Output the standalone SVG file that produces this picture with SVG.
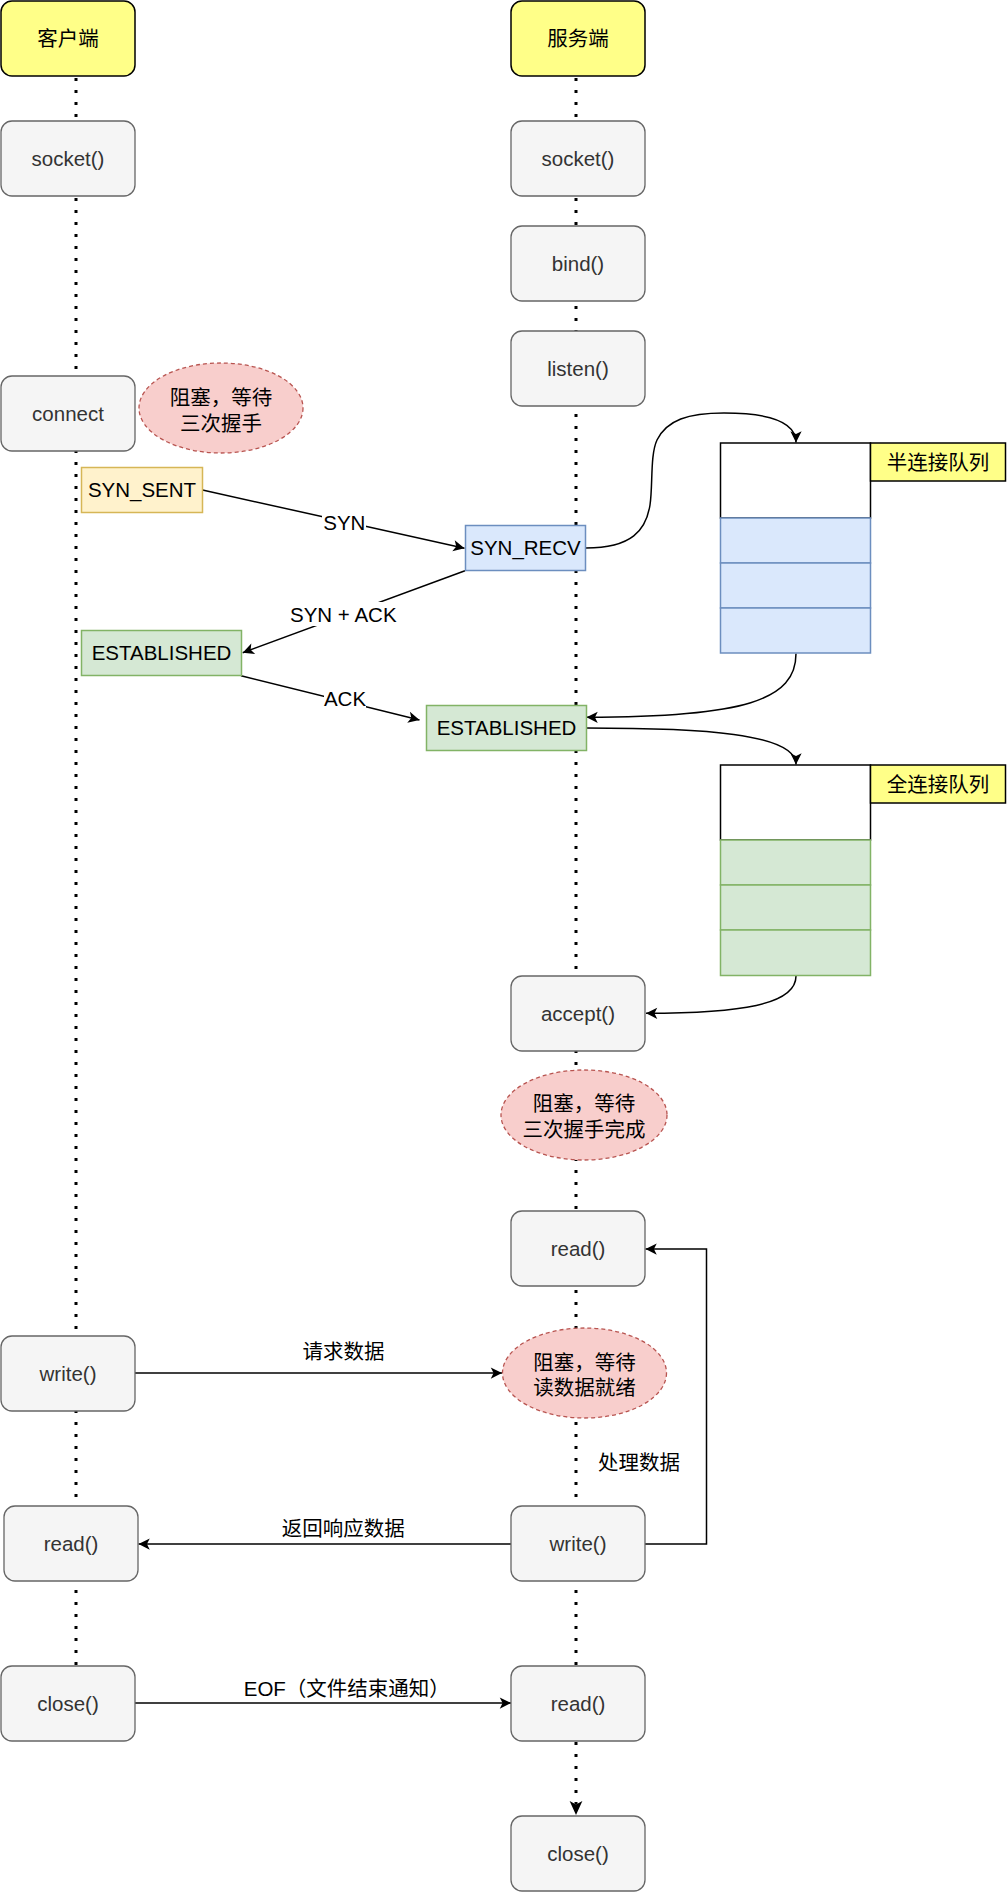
<svg xmlns="http://www.w3.org/2000/svg" width="1007" height="1892" viewBox="0 0 1007 1892">
<defs>
<marker id="arr" viewBox="0 0 12 12" refX="11" refY="6" markerWidth="13.5" markerHeight="13.5" markerUnits="userSpaceOnUse" orient="auto"><path d="M1,1 L11,6 L1,11 L3.5,6 Z" fill="#000"/></marker>
<marker id="arrBig" viewBox="0 0 12 12" refX="3.5" refY="6" markerWidth="17" markerHeight="17" markerUnits="userSpaceOnUse" orient="auto"><path d="M1,1.5 L11,6 L1,10.5 L3.5,6 Z" fill="#000"/></marker>
<style>
.t{font-family:"Liberation Sans","Noto Sans CJK SC",sans-serif;font-size:20.5px;text-anchor:middle;fill:#000}
.gt{fill:#333}
.g{fill:#f5f5f5;stroke:#666;stroke-width:1.3}
.hdr{fill:#ffff88;stroke:#000;stroke-width:1.5}
.ell{fill:#f8cecc;stroke:#b85450;stroke-width:1.3;stroke-dasharray:4 3}
.life{stroke:#000;stroke-width:3;stroke-dasharray:3 9;fill:none}
.e{stroke:#000;stroke-width:1.5;fill:none}
.bg{fill:#fff}
.qw{fill:#fff;stroke:#000;stroke-width:1.5}
.qb{fill:#dae8fc;stroke:#6c8ebf;stroke-width:1.5}
.qg{fill:#d5e8d4;stroke:#82b366;stroke-width:1.5}
.ql{fill:#ffff88;stroke:#000;stroke-width:1.5}
</style>
</defs>
<g id="connectors">
<line class="life" x1="76" y1="78" x2="76" y2="1665"/>
<line class="life" x1="576" y1="78" x2="576" y2="1665"/>
<line class="life" x1="576" y1="1742" x2="576" y2="1804.5" marker-end="url(#arrBig)"/>
<path class="e" d="M202.5,490 L464.5,548.3" marker-end="url(#arr)"/>
<rect class="bg" x="322" y="511" width="44" height="24"/>
<text class="t" x="344.3" y="530">SYN</text>
<path class="e" d="M465,570.7 L242.7,652.7" marker-end="url(#arr)"/>
<rect class="bg" x="289.5" y="602" width="108" height="24"/>
<text class="t" x="343.3" y="621.6">SYN + ACK</text>
<path class="e" d="M241,675.7 L419.5,720" marker-end="url(#arr)"/>
<rect class="bg" x="324" y="686" width="42" height="24"/>
<text class="t" x="345" y="705.6">ACK</text>
<path class="e" d="M586,548 C632,548 646,530 650,505 C653,485 650,455 657,440 C667,420 688,413 724,413 C770,413 796,422 796,442.5" marker-end="url(#arr)"/>
<path class="e" d="M796,653.5 C796,700 745,717 586.5,717.3" marker-end="url(#arr)"/>
<path class="e" d="M586,728 C700,728 796,733 796,764.5" marker-end="url(#arr)"/>
<path class="e" d="M796,976 C796,1005 740,1013 646,1013.3" marker-end="url(#arr)"/>
<path class="e" d="M135,1373 L502,1373" marker-end="url(#arr)"/>
<text class="t" x="343.6" y="1359">请求数据</text>
<path class="e" d="M511,1544 L138.5,1544" marker-end="url(#arr)"/>
<text class="t" x="343.3" y="1536">返回响应数据</text>
<path class="e" d="M645,1544 L706.5,1544 L706.5,1249 L645.5,1249" marker-end="url(#arr)"/>
<text class="t" x="639" y="1470">处理数据</text>
<path class="e" d="M135,1703 L511,1703" marker-end="url(#arr)"/>
<text class="t" x="346.8" y="1696">EOF（文件结束通知）</text>
</g>
<g id="client-header"><rect class="hdr" x="1" y="1" width="134" height="75" rx="11"/><text class="t" x="68" y="46">客户端</text></g>
<g id="server-header"><rect class="hdr" x="511" y="1" width="134" height="75" rx="11"/><text class="t" x="578" y="46">服务端</text></g>
<g id="client-socket"><rect class="g" x="1" y="121" width="134" height="75" rx="11"/><text class="t gt" x="68" y="165.5">socket()</text></g>
<g id="server-socket"><rect class="g" x="511" y="121" width="134" height="75" rx="11"/><text class="t gt" x="578" y="165.5">socket()</text></g>
<g id="server-bind"><rect class="g" x="511" y="226" width="134" height="75" rx="11"/><text class="t gt" x="578" y="270.5">bind()</text></g>
<g id="server-listen"><rect class="g" x="511" y="331" width="134" height="75" rx="11"/><text class="t gt" x="578" y="375.5">listen()</text></g>
<g id="client-connect"><rect class="g" x="1" y="376" width="134" height="75" rx="11"/><text class="t gt" x="68" y="420.5">connect</text></g>
<g id="block-connect"><ellipse class="ell" cx="221" cy="408" rx="82" ry="45"/><text class="t" x="221" y="404.5">阻塞，等待</text><text class="t" x="221" y="430.5">三次握手</text></g>
<g id="syn-sent"><rect x="81.5" y="467.5" width="121" height="45" fill="#fff2cc" stroke="#d6b656" stroke-width="1.5"/><text class="t" x="142" y="497.3">SYN_SENT</text></g>
<g id="syn-recv"><rect x="465.5" y="525.5" width="120" height="45" fill="#dae8fc" stroke="#6c8ebf" stroke-width="1.5"/><text class="t" x="525.5" y="555.3">SYN_RECV</text></g>
<g id="client-established"><rect x="81.5" y="630.5" width="160" height="45" fill="#d5e8d4" stroke="#82b366" stroke-width="1.5"/><text class="t" x="161.5" y="660.3">ESTABLISHED</text></g>
<g id="server-established"><rect x="426.5" y="705.5" width="160" height="45" fill="#d5e8d4" stroke="#82b366" stroke-width="1.5"/><text class="t" x="506.5" y="735.3">ESTABLISHED</text></g>
<g id="half-queue">
<rect class="qw" x="720.5" y="443" width="150" height="75"/>
<rect class="qb" x="720.5" y="518" width="150" height="45"/>
<rect class="qb" x="720.5" y="563" width="150" height="45"/>
<rect class="qb" x="720.5" y="608" width="150" height="45"/>
<rect class="ql" x="870.5" y="443" width="135" height="38"/>
<text class="t" x="938" y="470">半连接队列</text>
</g>
<g id="full-queue">
<rect class="qw" x="720.5" y="765" width="150" height="75"/>
<rect class="qg" x="720.5" y="840" width="150" height="45"/>
<rect class="qg" x="720.5" y="885" width="150" height="45"/>
<rect class="qg" x="720.5" y="930" width="150" height="45.5"/>
<rect class="ql" x="870.5" y="765" width="135" height="38"/>
<text class="t" x="938" y="792">全连接队列</text>
</g>
<g id="server-accept"><rect class="g" x="511" y="976" width="134" height="75" rx="11"/><text class="t gt" x="578" y="1020.5">accept()</text></g>
<g id="block-accept"><ellipse class="ell" cx="584" cy="1115" rx="83" ry="45"/><text class="t" x="584" y="1110.5">阻塞，等待</text><text class="t" x="584" y="1137">三次握手完成</text></g>
<g id="server-read1"><rect class="g" x="511" y="1211" width="134" height="75" rx="11"/><text class="t gt" x="578" y="1255.5">read()</text></g>
<g id="client-write"><rect class="g" x="1" y="1336" width="134" height="75" rx="11"/><text class="t gt" x="68" y="1380.5">write()</text></g>
<g id="block-read"><ellipse class="ell" cx="584.5" cy="1373" rx="82" ry="45"/><text class="t" x="584.5" y="1369.7">阻塞，等待</text><text class="t" x="584.5" y="1394.7">读数据就绪</text></g>
<g id="server-write"><rect class="g" x="511" y="1506" width="134" height="75" rx="11"/><text class="t gt" x="578" y="1550.5">write()</text></g>
<g id="client-read"><rect class="g" x="4" y="1506" width="134" height="75" rx="11"/><text class="t gt" x="71" y="1550.5">read()</text></g>
<g id="client-close"><rect class="g" x="1" y="1666" width="134" height="75" rx="11"/><text class="t gt" x="68" y="1710.5">close()</text></g>
<g id="server-read2"><rect class="g" x="511" y="1666" width="134" height="75" rx="11"/><text class="t gt" x="578" y="1710.5">read()</text></g>
<g id="server-close"><rect class="g" x="511" y="1816" width="134" height="75" rx="11"/><text class="t gt" x="578" y="1860.5">close()</text></g>
</svg>
